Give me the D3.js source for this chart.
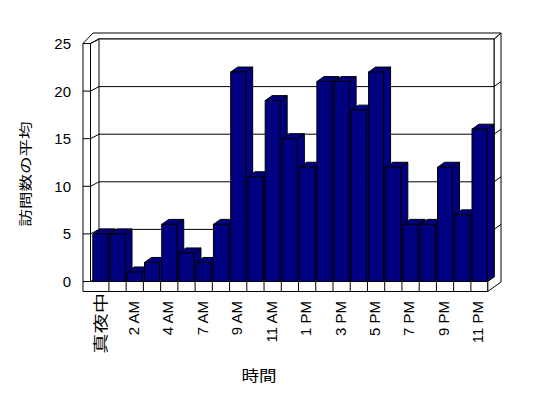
<!DOCTYPE html>
<html>
  <head>
    <meta charset="utf-8">
    <title>訪問数の平均</title>
    <style>
      body { margin: 0; background: #fff; }
      svg { display: block; }
      .edge { fill: #fff; stroke: #000; stroke-width: 1; }
      .grid { fill: none; stroke: #000; stroke-width: 1; }
      .bar { fill: #000080; stroke: #000; stroke-width: 1; stroke-linejoin: miter; }
      .tick { font-family: "Liberation Sans", Arial, sans-serif; fill: #000; }
      .cjk { font-family: "Noto Sans CJK JP", sans-serif; fill: #000; }
    </style>
    <script src="https://cdn.jsdelivr.net/npm/d3@7"></script>
  </head>
  <body>
    <svg id="chart" width="548" height="398"></svg>
    <script>
      // categories (hours) and average visit counts
      var hours = ["真夜中", "1 AM", "2 AM", "3 AM", "4 AM", "6 AM", "7 AM", "8 AM",
                   "9 AM", "10 AM", "11 AM", "正午", "1 PM", "2 PM", "3 PM", "4 PM",
                   "5 PM", "6 PM", "7 PM", "8 PM", "9 PM", "10 PM", "11 PM"];
      var visits = [5, 5, 1, 2, 6, 3, 2, 6, 22, 11, 19, 15, 12, 21, 21, 18, 22, 12, 6, 6, 12, 7, 16];
      var yTicks = [0, 5, 10, 15, 20, 25];
      var yTitle = "訪問数の平均";
      var xTitle = "時間";

      var svg = d3.select("#chart");

      // frame of the 3-D box
      var outerL = 83, frontL = 90.5, frontR = 487.7;
      var backL = 99, backR = 494, outerR = 501, outerTop = 33;
      var floorBottom = 291.5;
      var wallDY = -4.5;           // depth shift of the back wall
      var barDX = 7, barDY = -5;   // depth of each column

      var y = d3.scaleLinear().domain([0, 25]).range([281.5, 43.5]);
      var x = d3.scaleBand().domain(hours).range([92.1, frontR])
                .paddingInner(0.13).paddingOuter(0.04);

      var line = d3.line();
      var isLatin = function(d) { return /[A-Z]/.test(d); };

      // back wall right edge + floor right edge
      svg.append("path").attr("class", "edge")
         .attr("d", line([[backR, y(25) + wallDY], [outerR, outerTop], [outerR, 282],
                          [frontR, floorBottom], [frontR, y(0)], [backR, y(0) + wallDY]]) + "Z");
      // top of the back wall
      svg.append("path").attr("class", "edge")
         .attr("d", line([[outerL, y(25)], [93, outerTop], [outerR, outerTop],
                          [backR, y(25) + wallDY], [backL, y(25) + wallDY], [frontL, y(25)]]) + "Z");
      // back wall inner face
      svg.append("rect").attr("class", "edge")
         .attr("x", backL).attr("y", y(25) + wallDY)
         .attr("width", backR - backL).attr("height", y(0) - y(25));

      // gridlines (left wall diagonal + back wall)
      svg.selectAll(".gridline").data(yTicks.slice(0, 5)).enter()
         .append("path").attr("class", "grid")
         .attr("d", function(d) {
           return line([[frontL, y(d)], [backL, y(d) + wallDY], [backR, y(d) + wallDY]]);
         });
      // notches on the back wall right edge
      svg.selectAll(".notch").data(yTicks.slice(1, 5)).enter()
         .append("path").attr("class", "grid")
         .attr("d", function(d) {
           return line([[backR, y(d) + wallDY], [outerR, y(d) + wallDY - 5]]);
         });

      // left wall front face and floor front face
      svg.append("path").attr("class", "edge")
         .attr("d", line([[outerL, y(25)], [frontL, y(25)], [frontL, y(0)], [frontR, y(0)],
                          [frontR, floorBottom], [outerL, floorBottom]]) + "Z");
      svg.append("line").attr("class", "grid")
         .attr("x1", frontL).attr("x2", backL)
         .attr("y1", y(25)).attr("y2", y(25) + wallDY);

      // value ticks on left wall
      svg.selectAll(".ytick").data(yTicks).enter()
         .append("line").attr("class", "grid")
         .attr("x1", outerL).attr("x2", frontL)
         .attr("y1", function(d) { return y(d); })
         .attr("y2", function(d) { return y(d); });

      // category ticks on the floor edge
      var step = x.step();
      svg.selectAll(".xtick").data(hours.slice(1)).enter()
         .append("line").attr("class", "grid")
         .attr("x1", function(d) { return x(d) - step * x.paddingInner() / 2; })
         .attr("x2", function(d) { return x(d) - step * x.paddingInner() / 2; })
         .attr("y1", y(0)).attr("y2", floorBottom);

      // 3-D columns, left to right
      var bw = x.bandwidth();
      var bars = svg.selectAll(".col").data(visits).enter().append("g");
      bars.append("path").attr("class", "bar")
          .attr("d", function(d, i) {
            var l = x(hours[i]), r = l + bw;
            return line([[r, y(d)], [r + barDX, y(d) + barDY], [r + barDX, y(0) + barDY], [r, y(0)]]) + "Z";
          });
      bars.append("path").attr("class", "bar")
          .attr("d", function(d, i) {
            var l = x(hours[i]), r = l + bw;
            return line([[l, y(d)], [l + barDX, y(d) + barDY], [r + barDX, y(d) + barDY], [r, y(d)]]) + "Z";
          });
      bars.append("rect").attr("class", "bar")
          .attr("x", function(d, i) { return x(hours[i]); })
          .attr("y", function(d) { return y(d); })
          .attr("width", bw)
          .attr("height", function(d) { return y(0) - y(d); });

      // y tick labels
      svg.selectAll(".ylab").data(yTicks).enter()
         .append("text").attr("class", "tick")
         .attr("x", 71).attr("y", function(d) { return y(d); })
         .attr("dy", "0.36em")
         .attr("text-anchor", "end")
         .style("font-size", "15px")
         .text(function(d) { return d; });

      // x tick labels (every second hour), rotated
      svg.selectAll(".xlab").data(hours.filter(function(d, i) { return i % 2 === 0; })).enter()
         .append("text")
         .attr("class", function(d) { return isLatin(d) ? "tick" : "cjk"; })
         .attr("transform", function(d) {
           var cx = x(d) + bw / 2 + (isLatin(d) ? -1.5 : 0);
           return isLatin(d)
             ? "translate(" + cx + ",301) rotate(-90)"
             : "translate(" + cx + ",293) rotate(-90) scale(1.35,1)";
         })
         .attr("dy", "0.36em")
         .attr("text-anchor", "end")
         .style("font-size", "15px")
         .text(function(d) { return d; });

      // axis titles
      svg.append("text").attr("class", "cjk")
         .attr("transform", "translate(25,174) rotate(-90) scale(1.35,1)")
         .attr("dy", "0.36em")
         .attr("text-anchor", "middle")
         .style("font-size", "13px")
         .text(yTitle);
      svg.append("text").attr("class", "cjk")
         .attr("transform", "translate(259,376) scale(1.17,1)")
         .attr("dy", "0.36em")
         .attr("text-anchor", "middle")
         .style("font-size", "15px")
         .text(xTitle);
    </script>
  </body>
</html>
